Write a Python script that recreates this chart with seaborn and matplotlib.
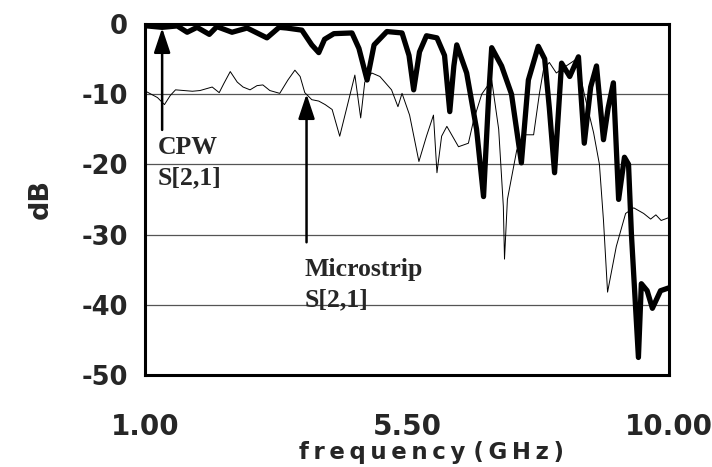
import pandas as pd
import matplotlib
matplotlib.use("Agg")
import matplotlib.pyplot as plt
import seaborn as sns

# CPW S[2,1] (thick trace)
cpw_freq = [1.03, 1.29, 1.55, 1.72, 1.89, 2.10, 2.23, 2.49, 2.75, 3.09, 3.30, 3.43,
            3.69, 3.86, 3.98, 4.08, 4.24, 4.55, 4.67, 4.81, 4.93, 5.15, 5.41, 5.53,
            5.61, 5.71, 5.83, 6.01, 6.14, 6.23, 6.30, 6.35, 6.52, 6.69, 6.81, 6.90,
            6.95, 7.12, 7.29, 7.46, 7.58, 7.75, 7.86, 7.94, 8.03, 8.15, 8.29, 8.44,
            8.54, 8.65, 8.75, 8.87, 8.95, 9.04, 9.13, 9.23, 9.30, 9.35, 9.47, 9.52,
            9.62, 9.71, 9.85, 9.99]
cpw_db = [-0.3, -0.5, -0.3, -1.2, -0.5, -1.5, -0.4, -1.2, -0.6, -2.0, -0.5, -0.6,
          -0.9, -3.0, -4.1, -2.2, -1.4, -1.3, -3.5, -8.0, -3.0, -1.1, -1.3, -4.5,
          -9.4, -4.0, -1.7, -2.0, -4.5, -12.5, -6.0, -3.0, -7.0, -15.0, -24.6, -10.0,
          -3.4, -6.0, -10.0, -19.8, -8.0, -3.2, -5.0, -12.0, -21.2, -5.6, -7.5, -4.7,
          -17.0, -9.0, -6.0, -16.5, -12.0, -8.4, -25.0, -19.0, -20.0, -30.0, -47.5, -37.0,
          -38.0, -40.5, -38.0, -37.6]

# Microstrip S[2,1] (thin trace)
ms_freq = [1.03, 1.21, 1.33, 1.43, 1.52, 1.81, 1.94, 2.15, 2.27, 2.35, 2.46, 2.58,
           2.68, 2.80, 2.92, 3.02, 3.14, 3.31, 3.45, 3.57, 3.66, 3.74, 3.86, 3.98,
           4.09, 4.21, 4.34, 4.46, 4.60, 4.70, 4.77, 4.89, 5.03, 5.23, 5.34, 5.41,
           5.54, 5.70, 5.83, 5.95, 6.01, 6.09, 6.18, 6.38, 6.55, 6.64, 6.78, 6.95,
           7.07, 7.15, 7.17, 7.22, 7.38, 7.51, 7.67, 7.77, 7.84, 7.94, 8.06, 8.23,
           8.41, 8.54, 8.70, 8.80, 8.87, 8.94, 9.09, 9.25, 9.39, 9.56, 9.68, 9.77,
           9.86, 9.99]
ms_db = [-9.7, -10.5, -11.5, -10.2, -9.4, -9.6, -9.5, -9.0, -9.8, -8.5, -6.8, -8.3,
         -9.0, -9.4, -8.8, -8.7, -9.5, -9.9, -8.0, -6.6, -7.5, -9.8, -10.8, -11.0,
         -11.5, -12.2, -16.0, -12.0, -7.3, -13.4, -8.3, -7.0, -7.5, -9.4, -11.8, -9.9,
         -13.0, -19.6, -16.0, -13.0, -21.2, -16.0, -14.6, -17.5, -17.0, -13.7, -10.0, -8.0,
         -15.0, -26.0, -33.5, -25.0, -18.0, -15.8, -15.8, -9.9, -6.5, -5.5, -7.0, -6.0,
         -5.0, -10.0, -15.5, -20.0, -28.0, -38.2, -31.7, -27.0, -26.2, -27.0, -27.8, -27.2,
         -28.0, -27.6]

y_ticks = [0, -10, -20, -30, -40, -50]
x_ticks = [1.0, 5.5, 10.0]

cpw = pd.DataFrame({"freq": cpw_freq, "dB": cpw_db})
ms = pd.DataFrame({"freq": ms_freq, "dB": ms_db})

sns.set_style("white")
plt.rcParams["font.family"] = ["DejaVu Sans"]
plt.rcParams["axes.unicode_minus"] = False

fig = plt.figure(figsize=(7.12, 4.67), dpi=100)
ax = fig.add_axes([0.204, 0.197, 0.736, 0.752])

# grid lines at the interior dB levels
for yv in y_ticks[1:-1]:
    ax.axhline(yv, color="#555555", lw=0.9, zorder=0)

sns.lineplot(data=ms, x="freq", y="dB", ax=ax, color="black", lw=0.7,
             estimator=None, sort=False, zorder=2)
sns.lineplot(data=cpw, x="freq", y="dB", ax=ax, color="black", lw=3.8,
             estimator=None, sort=False, zorder=3, solid_joinstyle="round")

ax.set_xlim(1, 10)
ax.set_ylim(-50, 0)
ax.set_xticks(x_ticks)
ax.set_xticklabels(["%.2f" % v for v in x_ticks])
ax.set_yticks(y_ticks)
ax.tick_params(axis="x", direction="out", length=4, width=1, color="black",
               labelsize=20, pad=23)
ax.tick_params(axis="y", direction="inout", length=9, width=1, color="black",
               labelsize=18.5, pad=8)
for lab in ax.get_xticklabels() + ax.get_yticklabels():
    lab.set_fontweight("bold")

for s in ax.spines.values():
    s.set_color("black")
    s.set_linewidth(2.2)

thin = "\u2009"
ax.set_xlabel(thin.join("frequency") + " " + thin.join("(GHz)"),
              fontsize=16.5, fontweight="bold")
ax.xaxis.set_label_coords(0.546, -0.188, transform=ax.transAxes)
ax.xaxis.label.set_va("top")
ax.set_ylabel("dB", fontsize=19.5, fontweight="bold", labelpad=20)

# annotations
arrow = dict(arrowstyle="-|>,head_length=1.5,head_width=0.5", color="black", lw=1.8)
ax.annotate("", xy=(1.29, -0.2), xytext=(1.29, -15.5), arrowprops=arrow, zorder=4)
ax.annotate("", xy=(3.77, -9.6), xytext=(3.77, -31.5), arrowprops=arrow, zorder=4)

serif = ["Liberation Serif", "DejaVu Serif"]
ax.text(1.21, -17.6, "CPW", family=serif, fontsize=18.5, fontweight="bold", va="center")
ax.text(1.21, -21.9, "S[2,1]", family=serif, fontsize=18.5, fontweight="bold", va="center")
ax.text(3.73, -35.0, "Microstrip", family=serif, fontsize=18.5, fontweight="bold", va="center")
ax.text(3.73, -39.3, "S[2,1]", family=serif, fontsize=18.5, fontweight="bold", va="center")

fig.savefig("out.png", dpi=100)
